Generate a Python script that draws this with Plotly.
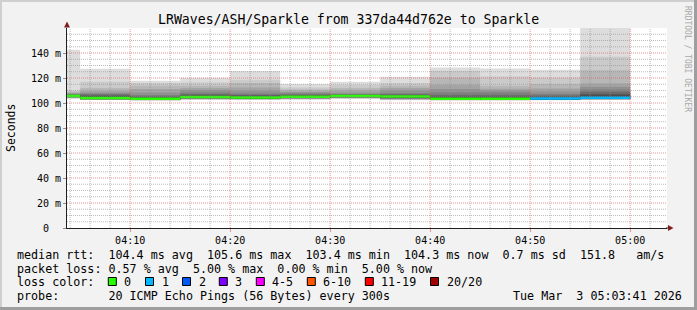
import plotly.graph_objects as go
from datetime import datetime, timedelta

# ---------------- data ----------------
title_text = "LRWaves/ASH/Sparkle from 337da44d762e to Sparkle"
view_start = "2026-03-03 04:03:41"
view_end = "2026-03-03 05:03:41"
step_seconds = 300
step_start = [
    "2026-03-03 04:00:00", "2026-03-03 04:05:00", "2026-03-03 04:10:00",
    "2026-03-03 04:15:00", "2026-03-03 04:20:00", "2026-03-03 04:25:00",
    "2026-03-03 04:30:00", "2026-03-03 04:35:00", "2026-03-03 04:40:00",
    "2026-03-03 04:45:00", "2026-03-03 04:50:00", "2026-03-03 04:55:00",
]
median_ms = [105.6, 104.1, 103.4, 104.9, 104.4, 105.0, 105.6, 105.2, 103.5, 103.5, 103.6, 104.3]
loss_pct = [0, 0, 0, 0, 0, 0, 0, 0, 0, 0, 5, 5]

# sorted pings per step: lower half (p1..p10) and upper half (p11..p20), ms
pings_lo = [
    [103.5, 103.8, 104.0, 104.2, 104.4, 104.6, 104.8, 105.0, 105.2, 105.4],
    [102.4, 102.6, 102.7, 102.8, 102.9, 103.0, 103.1, 103.3, 103.5, 103.7],
    [102.0, 102.2, 102.3, 102.4, 102.5, 102.6, 102.7, 102.8, 102.9, 103.1],
    [102.6, 102.9, 103.1, 103.3, 103.5, 103.7, 103.9, 104.1, 104.3, 104.6],
    [102.5, 102.8, 103.0, 103.1, 103.2, 103.3, 103.4, 103.6, 103.8, 104.0],
    [102.7, 103.0, 103.2, 103.4, 103.6, 103.8, 104.0, 104.2, 104.4, 104.7],
    [103.4, 103.7, 103.9, 104.1, 104.3, 104.5, 104.7, 104.9, 105.1, 105.4],
    [102.3, 102.7, 102.9, 103.1, 103.3, 103.6, 103.9, 104.2, 104.5, 104.9],
    [102.1, 102.3, 102.4, 102.5, 102.6, 102.7, 102.8, 102.9, 103.0, 103.2],
    [102.1, 102.3, 102.4, 102.5, 102.6, 102.7, 102.8, 102.9, 103.0, 103.2],
    [102.2, 102.4, 102.5, 102.6, 102.7, 102.8, 102.9, 103.0, 103.1, 103.3],
    [102.5, 102.8, 102.9, 103.0, 103.1, 103.2, 103.3, 103.5, 103.7, 103.9],
]
pings_hi = [
    [105.8, 106.0, 106.3, 106.6, 107.0, 107.6, 108.2, 109.0, 110.0, 142.6],
    [104.5, 105.2, 105.8, 106.9, 107.5, 108.5, 109.8, 112.0, 117.0, 127.4],
    [103.7, 104.2, 104.8, 105.5, 106.4, 108.5, 111.2, 113.8, 116.0, 117.8],
    [105.2, 105.7, 106.4, 107.2, 108.5, 110.4, 112.0, 113.8, 116.5, 120.2],
    [104.8, 105.7, 106.0, 106.6, 107.7, 109.8, 112.5, 116.0, 118.6, 125.6],
    [105.3, 105.8, 106.3, 106.9, 107.7, 108.6, 109.5, 110.9, 112.5, 115.2],
    [105.8, 106.1, 106.4, 106.8, 107.3, 108.2, 110.0, 112.0, 114.4, 117.0],
    [105.5, 105.9, 106.4, 107.0, 107.9, 110.0, 112.0, 113.8, 116.0, 121.0],
    [103.8, 104.6, 105.3, 106.4, 108.5, 111.2, 114.6, 120.5, 125.8, 128.5],
    [103.8, 104.5, 105.2, 106.4, 108.5, 110.0, 111.5, 113.8, 121.2, 127.6],
    [103.9, 104.5, 105.2, 106.0, 107.2, 109.3, 111.7, 115.2, 120.5, 126.6],
    [104.7, 106.0, 107.2, 109.0, 110.9, 113.0, 115.7, 126.2, 137.0, 175.0],
]

loss_labels = ["0", "1", "2", "3", "4-5", "6-10", "11-19", "20/20"]
loss_colors = ["#26ff00", "#00b8ff", "#0059ff", "#7e00ff", "#ff00ff", "#ff5500", "#ff0000", "#a00000"]
loss_upper = [0, 1, 2, 3, 5, 10, 19, 20]   # upper bound of loss count per colour
pings_per_step = 20

y_max = 160
x_tick_vals = ["2026-03-03 04:10", "2026-03-03 04:20", "2026-03-03 04:30",
               "2026-03-03 04:40", "2026-03-03 04:50", "2026-03-03 05:00"]
x_tick_text = ["04:10", "04:20", "04:30", "04:40", "04:50", "05:00"]
y_tick_vals = [0, 20, 40, 60, 80, 100, 120, 140]
y_tick_text = ["0\u00a0\u00a0", "20 m", "40 m", "60 m", "80 m", "100 m", "120 m", "140 m"]

stat_line_1 = "median rtt:  104.4 ms avg  105.6 ms max  103.4 ms min  104.3 ms now  0.7 ms sd  151.8   am/s"
stat_line_2 = "packet loss: 0.57 % avg  5.00 % max  0.00 % min  5.00 % now"
stat_line_3 = "loss color:"
stat_line_4 = "probe:       20 ICMP Echo Pings (56 Bytes) every 300s"
date_text = "Tue Mar  3 05:03:41 2026"
watermark = "RRDTOOL / TOBI OETIKER"
y_title = "Seconds"

# ---------------- geometry helpers (pixel -> paper) ----------------
W, H = 697, 310
L, R, T, B = 67, 30, 28, 82
PW, PH = W - L - R, H - T - B


def px(x):
    return (x - L) / PW


def py(y):
    return (H - B - y) / PH


fmt = "%Y-%m-%d %H:%M:%S"
starts = [datetime.strptime(s, fmt) for s in step_start]
centers = [s + timedelta(seconds=step_seconds / 2) for s in starts]
width_ms = step_seconds * 1000

fig = go.Figure()

# smoke: nested bands between p_i and p_(21-i)
half = pings_per_step // 2
for i in range(1, half + 1):
    shade = int(190 / half * (half - i)) + 50
    col = "#%02x%02x%02x" % (shade, shade, shade)
    lows, heights = [], []
    for lo, hi in zip(pings_lo, pings_hi):
        p = lo + hi
        lows.append(p[i - 1])
        heights.append(p[pings_per_step - i] - p[i - 1])
    fig.add_trace(go.Bar(x=centers, y=heights, base=lows, width=width_ms,
                         marker=dict(color=col, line=dict(width=0)),
                         hoverinfo="skip", showlegend=False))

# median band coloured by loss
swidth = 1.25 * y_max / PH


def loss_color(pct):
    cnt = round(pct * pings_per_step / 100)
    for ub, c in zip(loss_upper, loss_colors):
        if cnt <= ub:
            return c
    return loss_colors[-1]


fig.add_trace(go.Bar(x=centers, y=[2 * swidth] * len(median_ms),
                     base=[m - swidth for m in median_ms], width=width_ms,
                     marker=dict(color=[loss_color(p) for p in loss_pct], line=dict(width=0)),
                     hoverinfo="skip", showlegend=False))

shapes = []
grid_minor = "rgba(143,143,143,0.6)"
grid_major = "rgba(222,79,79,0.6)"
t0 = datetime.strptime(view_start, fmt)
t1 = datetime.strptime(view_end, fmt)
# vertical grid every 2 minutes, major every 10
t = t0.replace(second=0) + timedelta(minutes=1)
while t < t1:
    if t.minute % 2 == 0 and t > t0:
        major = t.minute % 10 == 0
        shapes.append(dict(type="line", xref="x", yref="paper", x0=t, x1=t, y0=0, y1=1,
                           line=dict(color=grid_major if major else grid_minor, width=1, dash="1px,1px"),
                           layer="above"))
    t += timedelta(minutes=1)
# horizontal grid every 5 ms, major every 20
for v in range(5, y_max, 5):
    major = v % 20 == 0
    shapes.append(dict(type="line", xref="paper", yref="y", x0=0, x1=1, y0=v, y1=v,
                       line=dict(color=grid_major if major else grid_minor, width=1, dash="1px,1px"),
                       layer="above"))

arrow = "#801f1f"
axis_col = "#1f1f1f"
# axis extensions and arrows
shapes.append(dict(type="line", xref="paper", yref="paper", x0=px(666), x1=px(669), y0=py(228), y1=py(228),
                   line=dict(color=axis_col, width=1)))
shapes.append(dict(type="path", xref="paper", yref="paper",
                   path="M %f %f L %f %f L %f %f Z" % (px(668), py(225), px(668), py(231), px(673.5), py(228)),
                   fillcolor=arrow, line=dict(width=0)))
shapes.append(dict(type="path", xref="paper", yref="paper",
                   path="M %f %f L %f %f L %f %f Z" % (px(64), py(27.5), px(70), py(27.5), px(67), py(21.5)),
                   fillcolor=arrow, line=dict(width=0)))
# 3D frame
shadeA, shadeB = "#cfcfcf", "#9e9e9e"
shapes.append(dict(type="rect", xref="paper", yref="paper", x0=px(0), x1=px(W), y0=py(0), y1=py(2),
                   fillcolor=shadeA, line=dict(width=0)))
shapes.append(dict(type="rect", xref="paper", yref="paper", x0=px(0), x1=px(2), y0=py(0), y1=py(H),
                   fillcolor=shadeA, line=dict(width=0)))
shapes.append(dict(type="rect", xref="paper", yref="paper", x0=px(0), x1=px(W), y0=py(H - 3), y1=py(H),
                   fillcolor=shadeB, line=dict(width=0)))
shapes.append(dict(type="rect", xref="paper", yref="paper", x0=px(W - 3), x1=px(W), y0=py(0), y1=py(H),
                   fillcolor=shadeB, line=dict(width=0)))

mono = "DejaVu Sans Mono"
leg_size = 11.7


def nb(s):
    return s.replace(" ", "\u00a0")


ann = []
ann.append(dict(text=nb(title_text), x=px(348.5), y=py(19), xanchor="center", yanchor="middle",
                font=dict(family=mono, size=13.2, color="#000")))
ann.append(dict(text=y_title, x=px(11), y=py(128), xanchor="center", yanchor="middle", textangle=-90,
                font=dict(family=mono, size=11.5, color="#000")))
ann.append(dict(text=nb(watermark), x=px(688), y=py(59), xanchor="center", yanchor="middle", textangle=90,
                font=dict(family=mono, size=8, color="#a8a8a8")))
rows_y = [255, 268.5, 282, 296]
for txt, yy in zip([stat_line_1, stat_line_2, stat_line_3, stat_line_4], rows_y):
    ann.append(dict(text=nb(txt), x=px(15), y=py(yy), xanchor="left", yanchor="middle",
                    font=dict(family=mono, size=leg_size, color="#000")))
ann.append(dict(text=nb(date_text), x=px(684), y=py(rows_y[3]), xanchor="right", yanchor="middle",
                font=dict(family=mono, size=leg_size, color="#000")))
sq_x = [108.3, 145.5, 182.5, 219.3, 256.3, 307.3, 365.3, 430.5]
for lab, c, xx in zip(loss_labels, loss_colors, sq_x):
    shapes.append(dict(type="rect", xref="paper", yref="paper", x0=px(xx), x1=px(xx + 8),
                       y0=py(rows_y[2] - 4.5), y1=py(rows_y[2] + 3.5),
                       fillcolor=c, line=dict(color="#000", width=1)))
    ann.append(dict(text=nb(lab), x=px(xx + 14), y=py(rows_y[2]), xanchor="left", yanchor="middle",
                    font=dict(family=mono, size=leg_size, color="#000")))

for a in ann:
    a.update(xref="paper", yref="paper", showarrow=False)

fig.update_layout(
    width=W, height=H,
    margin=dict(l=L, r=R, t=T, b=B, pad=0),
    paper_bgcolor="#f2f2f2", plot_bgcolor="#ffffff",
    barmode="overlay", showlegend=False,
    font=dict(family=mono, size=10, color="#000"),
    shapes=shapes, annotations=ann,
    xaxis=dict(type="date", range=[view_start, view_end], showgrid=False, zeroline=False,
               showline=True, linecolor=axis_col, linewidth=1,
               ticks="outside", ticklen=3, tickcolor=grid_major, tickwidth=1,
               tickvals=x_tick_vals, ticktext=x_tick_text, tickfont=dict(family=mono, size=10),
               fixedrange=True),
    yaxis=dict(range=[0, y_max], showgrid=False, zeroline=False,
               showline=True, linecolor=axis_col, linewidth=1,
               ticks="outside", ticklen=3, tickcolor="#8f8f8f", tickwidth=1,
               tickvals=y_tick_vals, ticktext=y_tick_text, tickfont=dict(family=mono, size=10),
               fixedrange=True),
)

fig.write_html("out.html", config={"displayModeBar": False})
